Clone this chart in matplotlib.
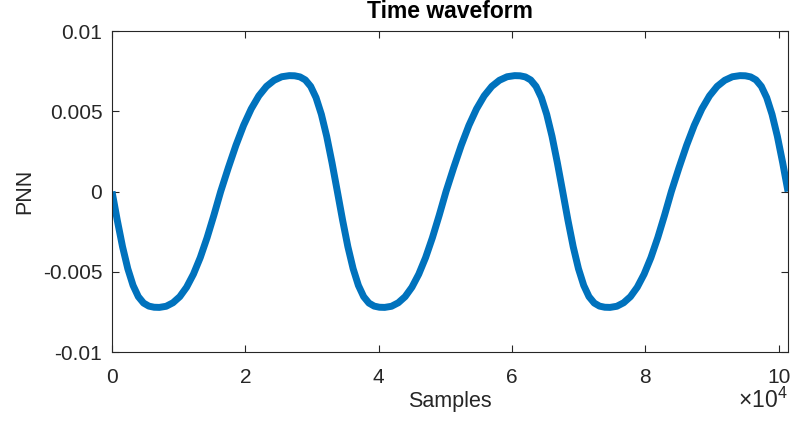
import matplotlib.pyplot as plt

# Points: x in samples, y in PNN
samples = [0, 789, 1578, 2367, 3156, 3944, 4733, 5522, 6311, 7100,
           8122, 9144, 10167, 11189, 12211, 13233, 14256, 15278, 16300,
           17444, 18589, 19733, 20878, 22022, 23167, 24311, 25456, 26600,
           27400, 28200, 29000, 29800, 30600, 31400, 32200, 33000, 33800,
           34589, 35378, 36167, 36956, 37744, 38533, 39322, 40111, 40900,
           41922, 42944, 43967, 44989, 46011, 47033, 48056, 49078, 50100,
           51244, 52389, 53533, 54678, 55822, 56967, 58111, 59256, 60400,
           61200, 62000, 62800, 63600, 64400, 65200, 66000, 66800, 67600,
           68389, 69178, 69967, 70756, 71544, 72333, 73122, 73911, 74700,
           75722, 76744, 77767, 78789, 79811, 80833, 81856, 82878, 83900,
           85044, 86189, 87333, 88478, 89622, 90767, 91911, 93056, 94200,
           95000, 95800, 96600, 97400, 98200, 99000, 99800, 100600, 101400]
pnn = [0, -0.00179, -0.00344, -0.00481, -0.00585, -0.00655, -0.00695, -0.00714, -0.00721, -0.00722,
       -0.00715, -0.00693, -0.00655, -0.00596, -0.00515, -0.00412, -0.00288, -0.00148, 0,
       0.00148, 0.00288, 0.00412, 0.00515, 0.00596, 0.00655, 0.00693, 0.00715, 0.00722,
       0.00721, 0.00714, 0.00695, 0.00655, 0.00585, 0.00481, 0.00344, 0.00179, 0,
       -0.00179, -0.00344, -0.00481, -0.00585, -0.00655, -0.00695, -0.00714, -0.00721, -0.00722,
       -0.00715, -0.00693, -0.00655, -0.00596, -0.00515, -0.00412, -0.00288, -0.00148, 0,
       0.00148, 0.00288, 0.00412, 0.00515, 0.00596, 0.00655, 0.00693, 0.00715, 0.00722,
       0.00721, 0.00714, 0.00695, 0.00655, 0.00585, 0.00481, 0.00344, 0.00179, 0,
       -0.00179, -0.00344, -0.00481, -0.00585, -0.00655, -0.00695, -0.00714, -0.00721, -0.00722,
       -0.00715, -0.00693, -0.00655, -0.00596, -0.00515, -0.00412, -0.00288, -0.00148, 0,
       0.00148, 0.00288, 0.00412, 0.00515, 0.00596, 0.00655, 0.00693, 0.00715, 0.00722,
       0.00721, 0.00714, 0.00695, 0.00655, 0.00585, 0.00481, 0.00344, 0.00179, 0]

xticks = [0, 20000, 40000, 60000, 80000, 100000]
xtick_labels = ['0', '2', '4', '6', '8', '10']
yticks = [-0.01, -0.005, 0, 0.005, 0.01]
ytick_labels = ['-0.01', '-0.005', '0', '0.005', '0.01']

plt.rcParams['font.family'] = ['Liberation Sans', 'DejaVu Sans']
plt.rcParams['mathtext.fontset'] = 'custom'
plt.rcParams['mathtext.rm'] = 'Liberation Sans'
axcol = '#262626'

fig = plt.figure(figsize=(7.9, 4.23), dpi=100)
ax = fig.add_axes([0.1418, 0.1678, 0.8557, 0.7589])

ax.plot(samples, pnn, color='#0072BD', linewidth=5, solid_capstyle='butt',
        solid_joinstyle='round')

ax.set_xlim(0, 101400)
ax.set_ylim(-0.01, 0.01)
ax.set_xticks(xticks)
ax.set_xticklabels(xtick_labels)
ax.set_yticks(yticks)
ax.set_yticklabels(ytick_labels)

ax.tick_params(direction='in', length=5, width=0.8, color=axcol, labelcolor=axcol,
               labelsize=15, top=True, right=True)
ax.tick_params(axis='x', pad=11.5)
ax.tick_params(axis='y', pad=7)
for s in ax.spines.values():
    s.set_color(axcol)
    s.set_linewidth(0.8)

ax.set_title('Time waveform', fontsize=16.5, fontweight='bold', pad=9.4)
ax.set_xlabel('Samples', fontsize=15.5, color=axcol)
ax.xaxis.set_label_coords(0.5, -0.1215)
fig.text(24.5 / 790, 1 - 191.5 / 423, 'PNN', fontsize=15.5, color=axcol,
         rotation=90, ha='center', va='center')
fig.text(788 / 790, 1 - 408 / 423, '×10$^{\\mathrm{4}}$', fontsize=16.5, color=axcol,
         ha='right', va='baseline')

plt.savefig('out.png', dpi=100)
